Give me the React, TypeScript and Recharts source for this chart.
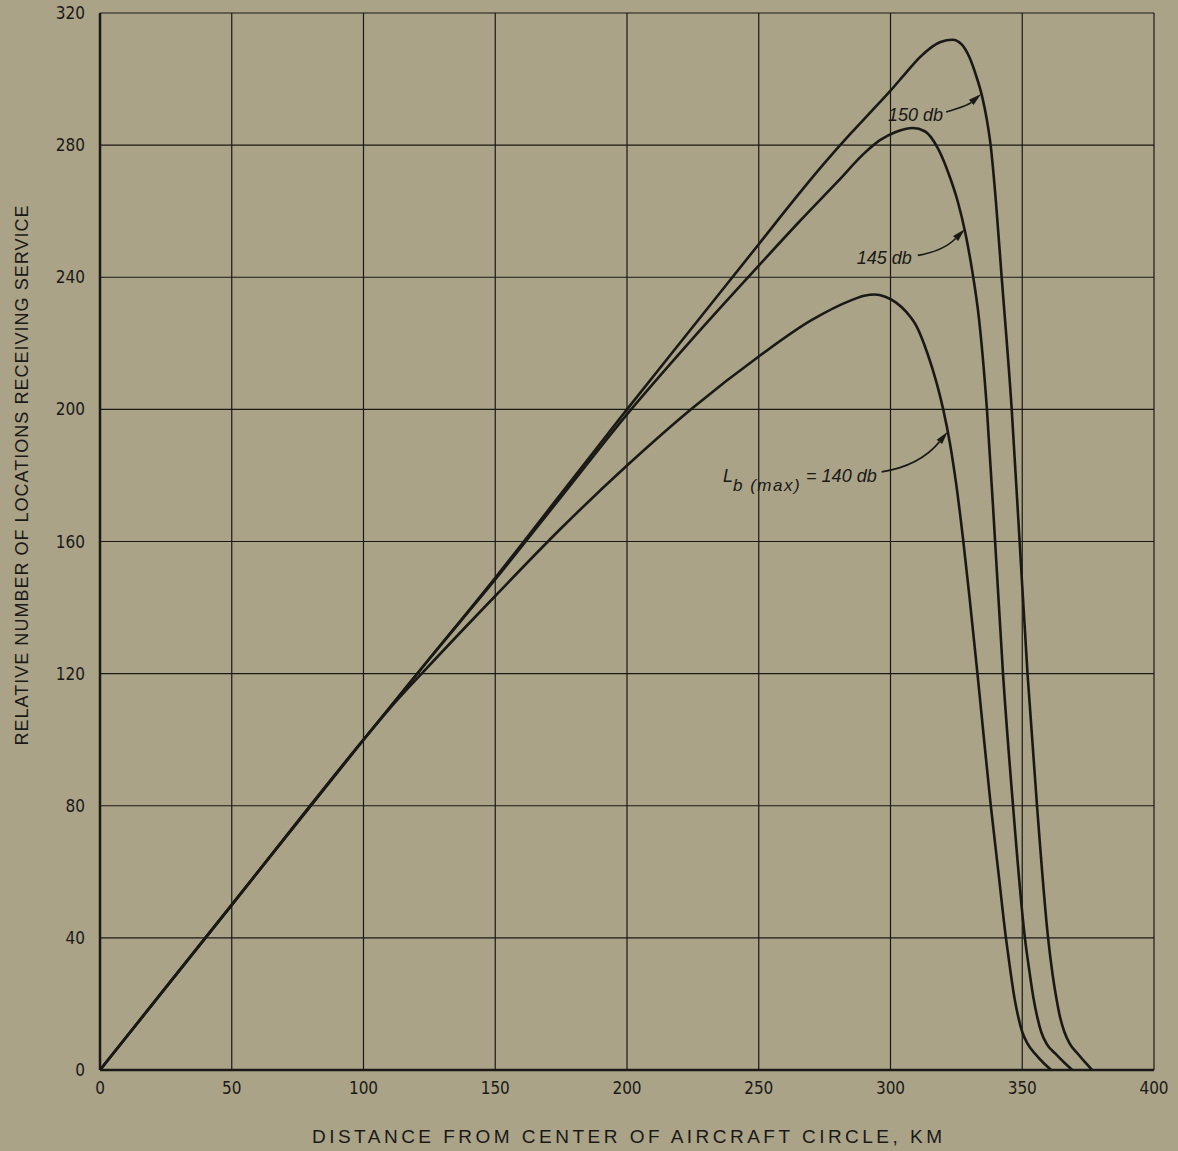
import { LineChart, Line, XAxis, YAxis, CartesianGrid, ReferenceDot } from 'recharts';

const BG = '#aaa388';
const INK = '#1a1916';
const TICK_FONT = '"Liberation Sans Narrow", "DejaVu Sans Condensed", sans-serif';
const TITLE_FONT = '"Liberation Sans", "DejaVu Sans", sans-serif';

const X_TICKS = [0, 50, 100, 150, 200, 250, 300, 350, 400];
const Y_TICKS = [0, 40, 80, 120, 160, 200, 240, 280, 320];

// Lb(max) = 150 db
const DIST_150 = [0, 50, 100, 125, 150, 175, 200, 225, 250, 265, 275, 285, 292, 300, 306, 311, 315, 319, 323.5, 327, 330, 332.5, 334.7, 336.5, 338, 340, 342, 346, 349, 352, 355.6, 359.8, 361.5, 363, 364.5, 366, 368, 371, 374, 376.5];
const LOC_150 = [0, 50, 100, 124.5, 149, 174.5, 200, 225, 250, 265, 274.6, 283.6, 289.6, 296.5, 302, 306.5, 309.3, 311.2, 311.9, 310.5, 306.5, 301, 295, 288, 280, 263, 242, 200, 160, 120, 80, 40, 29, 21.5, 15.5, 11.5, 8, 5, 2.2, 0];

// Lb(max) = 145 db
const DIST_145 = [0, 50, 100, 125, 150, 175, 200, 225, 250, 265, 280, 290, 296, 302, 308.5, 313, 318, 322, 325.5, 328.5, 331, 333.5, 336.6, 339.7, 342.7, 346.5, 351, 352.7, 354.2, 355.7, 357.2, 359.2, 362.5, 366, 369];
const LOC_145 = [0, 50, 100, 124.5, 148.5, 173.5, 198.5, 221.5, 243.5, 256.5, 269, 277.5, 281.5, 284, 285.2, 284.2, 279, 271.5, 263, 253, 242, 228, 200, 160, 120, 80, 40, 30, 22, 16, 11.5, 8, 5, 2.2, 0];

// Lb(max) = 140 db
const DIST_140 = [0, 50, 100, 110, 125, 150, 175, 200, 225, 250, 270, 285, 290, 294, 298, 302, 306, 310, 314, 317.5, 320, 322.5, 325, 327.5, 330, 333, 335.5, 338, 341, 343.8, 345.5, 347, 348.5, 350, 352, 355, 358, 361];
const LOC_140 = [0, 50, 100, 109.5, 122.5, 143.5, 164, 183, 200.5, 216, 227, 233, 234.4, 234.8, 234.1, 232.4, 229.5, 225, 217, 208, 200, 190, 177, 161, 143, 120, 100, 80.5, 59.5, 40, 30, 22, 16, 11.5, 8, 4.8, 2.2, 0];

const zip = (xs: number[], ys: number[]) => xs.map((x, i) => ({ x, y: ys[i] }));

const pts150 = zip(DIST_150, LOC_150);
const pts145 = zip(DIST_145, LOC_145);
const pts140 = zip(DIST_140, LOC_140);

// curved leader with an arrowhead at (cx, cy); offsets are in pixels from the tip
function arrowShape(tail: [number, number], ctrl: [number, number], label: (x: number, y: number) => any) {
  return (props: any) => {
    const { cx, cy } = props;
    const tx = cx + tail[0];
    const ty = cy + tail[1];
    const qx = cx + ctrl[0];
    const qy = cy + ctrl[1];
    const ang = Math.atan2(cy - qy, cx - qx);
    const len = 13;
    const half = 3.5;
    const bx = cx - len * Math.cos(ang);
    const by = cy - len * Math.sin(ang);
    const p1 = [bx + half * Math.sin(ang), by - half * Math.cos(ang)];
    const p2 = [bx - half * Math.sin(ang), by + half * Math.cos(ang)];
    return (
      <g>
        <path d={`M${tx},${ty} Q${qx},${qy} ${bx},${by}`} fill="none" stroke={INK} strokeWidth={1.6} />
        <polygon points={`${cx},${cy} ${p1[0]},${p1[1]} ${p2[0]},${p2[1]}`} fill={INK} />
        {label(tx, ty)}
      </g>
    );
  };
}

const annoText = {
  fill: INK,
  fontFamily: TITLE_FONT,
  fontStyle: 'italic' as const,
  fontSize: 18,
};

export default function App() {
  return (
    <div style={{ position: 'absolute', left: 0, top: 0, width: 1178, height: 1151, background: BG }}>
      <LineChart width={1178} height={1151} margin={{ top: 13, right: 24, bottom: 51, left: 0 }}>
        <CartesianGrid stroke={INK} strokeWidth={1.2} fill="none" />
        <XAxis
          type="number"
          dataKey="x"
          domain={[0, 400]}
          ticks={X_TICKS}
          interval={0}
          height={30}
          tickSize={0}
          tickMargin={12}
          axisLine={{ stroke: INK, strokeWidth: 2.5 }}
          tick={{ fill: INK, fontSize: 17, fontFamily: TICK_FONT }}
          label={{
            content: (p: any) => {
              const vb = p.viewBox;
              return (
                <text
                  x={vb.x + vb.width / 2}
                  y={vb.y + 73}
                  textAnchor="middle"
                  fill={INK}
                  fontFamily={TITLE_FONT}
                  fontSize={19}
                  textLength={630}
                  lengthAdjust="spacing"
                >
                  DISTANCE  FROM  CENTER OF AIRCRAFT  CIRCLE,  KM
                </text>
              );
            },
          }}
        />
        <YAxis
          type="number"
          dataKey="y"
          domain={[0, 320]}
          ticks={Y_TICKS}
          interval={0}
          width={100}
          tickSize={0}
          tickMargin={15}
          axisLine={{ stroke: INK, strokeWidth: 2.5 }}
          tick={{ fill: INK, fontSize: 17, fontFamily: TICK_FONT }}
          label={{
            content: (p: any) => {
              const vb = p.viewBox;
              const x = vb.x + 28;
              const y = vb.y + vb.height / 2 - 66;
              return (
                <text
                  x={x}
                  y={y}
                  transform={`rotate(-90 ${x} ${y})`}
                  textAnchor="middle"
                  fill={INK}
                  fontFamily={TITLE_FONT}
                  fontSize={18}
                  textLength={540}
                  lengthAdjust="spacing"
                >
                  RELATIVE  NUMBER  OF  LOCATIONS  RECEIVING  SERVICE
                </text>
              );
            },
          }}
        />
        <Line data={pts150} dataKey="y" type="monotone" stroke={INK} strokeWidth={2.6} dot={false} isAnimationActive={false} />
        <Line data={pts145} dataKey="y" type="monotone" stroke={INK} strokeWidth={2.6} dot={false} isAnimationActive={false} />
        <Line data={pts140} dataKey="y" type="monotone" stroke={INK} strokeWidth={2.6} dot={false} isAnimationActive={false} />

        <ReferenceDot
          x={334.4}
          y={295.5}
          shape={arrowShape([-35, 18], [-14, 12], (x, y) => (
            <text x={x - 3} y={y + 9} textAnchor="end" {...annoText}>150 db</text>
          ))}
        />
        <ReferenceDot
          x={328.2}
          y={254.5}
          shape={arrowShape([-47, 26], [-22, 22], (x, y) => (
            <text x={x - 6} y={y + 9} textAnchor="end" {...annoText}>145 db</text>
          ))}
        />
        <ReferenceDot
          x={321.7}
          y={193.2}
          shape={arrowShape([-66, 40], [-28, 34], (x, y) => (
            <text x={x - 5} y={y + 10} textAnchor="end" {...annoText}>
              L
              <tspan dy={9} fontSize={17} letterSpacing={1.5}>b (max)</tspan>
              <tspan dy={-9}> = 140 db</tspan>
            </text>
          ))}
        />
      </LineChart>
    </div>
  );
}
